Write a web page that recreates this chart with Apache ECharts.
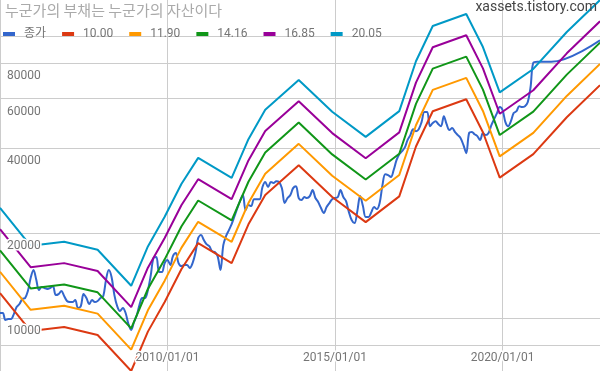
<!DOCTYPE html>
<html><head><meta charset="utf-8">
<script src="https://cdn.jsdelivr.net/npm/echarts@6/dist/echarts.min.js"></script>
<style>html,body{margin:0;padding:0;background:#fff}#c{width:600px;height:371px}</style>
</head><body><div id="c"></div>
<script>
const titleText = '누군가의 부채는 누군가의 자산이다';
const siteText = 'xassets.tistory.com';
const closeName = '종가';
const closeStartYear = 2005;
// monthly closes, 2005-01 .. 2020-12
const closeMonthly = [
  10420, 10420, 9840, 9920, 9920, 10330, 10940, 11210, 11680, 11770, 12460, 13860,
  14790, 13630, 12570, 12880, 12770, 12670, 12770, 12980, 12060, 12160, 12460, 11970,
  11490, 11390, 11390, 11580, 10850, 11030, 12160, 11770, 11210, 11580, 11390, 11490,
  11770, 11970, 13630, 14790, 13970, 12060, 11030, 10590, 10850, 10420, 9520, 9070,
  9680, 10250, 11120, 11770, 11770, 12570, 14090, 16320, 16450, 14550, 14550, 15660,
  16050, 15410, 16580, 17000, 15660, 15280, 15410, 15410, 15040, 15660, 17000, 19200,
  19680, 18890, 18280, 17990, 17270, 17130, 16580, 14790, 18130, 19520, 20500, 21530,
  22970, 24540, 25970, 27290, 24140, 25150, 24930, 26390, 26390, 26390, 29130, 30350,
  29130, 30350, 30100, 30570, 30350, 28870, 25560, 26630, 27290, 28870, 29340, 26630,
  26200, 26850, 26630, 27050, 28430, 26630, 25770, 24540, 23560, 24740, 25560, 26390,
  26630, 26850, 28430, 26850, 25970, 23740, 22250, 21700, 23930, 27050, 24930, 22790,
  22790, 23740, 24740, 24330, 25560, 29610, 32360, 32130, 31610, 33470, 36270, 38090,
  39040, 40330, 42740, 44510, 46710, 45950, 46710, 49500, 53710, 53710, 47860, 49100,
  49850, 48650, 47860, 51930, 48650, 46370, 47130, 45620, 44510, 43400, 40990, 38400,
  45250, 45620, 44840, 44120, 42740, 45250, 44510, 45250, 48300, 50680, 53270, 55950,
  54600, 49500, 47860, 49850, 53270, 54090, 56340, 55950, 56340, 58210, 65770, 80340
];
const closeTailDates = ['2021-01-15', '2021-06-15', '2022-11-28'];
const closeTailValues = [81000, 81000, 96500];

const bandDates = ['2005-01-01','2005-12-01','2006-12-01','2007-12-01','2008-12-01','2009-06-01','2009-12-01',
  '2010-06-01','2010-12-01','2011-12-01','2012-06-01','2012-12-01','2013-12-01','2014-12-01','2015-12-01',
  '2016-12-01','2017-06-01','2017-12-01','2018-12-01','2019-06-01','2019-12-01','2020-12-01','2021-12-01','2022-11-28'];
const bandBase = [1226, 899, 929, 871, 649, 895, 1140,
  1490, 1843, 1566, 2148, 2729, 3482, 2685, 2188,
  2700, 4055, 5409, 5965, 4555, 3145, 3809, 5150, 6687];
const bandMultiples = [10.00, 11.90, 14.16, 16.85, 20.05];
const bandNames = ['10.00', '11.90', '14.16', '16.85', '20.05'];

const yGridValues = [8000, 10000, 20000, 40000, 60000, 80000, 100000];
const yLabelValues = [10000, 20000, 40000, 60000, 80000];
const xGridDates = ['2005-01-01', '2010-01-01', '2015-01-01', '2020-01-01'];
const xLabelDates = ['2010-01-01', '2015-01-01', '2020-01-01'];
const colors = ['#3366cc', '#dc3912', '#ff9900', '#109618', '#990099', '#0099c6'];

function toTime(s) {
  const p = s.split('-').map(Number);
  return new Date(p[0], p[1] - 1, p[2] || 1).getTime();
}
function pad(n) { return (n < 10 ? '0' : '') + n; }

const closeData = closeMonthly.map((v, i) => [
  toTime(`${closeStartYear + Math.floor(i / 12)}-${(i % 12) + 1}-01`), v
]).concat(closeTailDates.map((d, i) => [toTime(d), closeTailValues[i]]));

const bandSeriesData = bandMultiples.map(m => bandDates.map((d, i) => [toTime(d), +(bandBase[i] * m).toFixed(1)]));

const allPts = closeData.concat(...bandSeriesData);
const xMin = Math.min(...allPts.map(p => p[0]));
const xMax = Math.max(...allPts.map(p => p[0]));
const yMin = Math.min(...allPts.map(p => p[1]));
const yMax = Math.max(...allPts.map(p => p[1]));

const font = 'Roboto, "Noto Sans CJK KR", sans-serif';
const labelText = {
  color: '#757575', fontSize: 12, fontFamily: font,
  textBorderColor: '#fff', textBorderWidth: 3
};

const series = [{
  name: closeName, type: 'line', data: closeData, showSymbol: false, smooth: 0.35,
  xAxisIndex: 0, yAxisIndex: 0,
  lineStyle: { width: 2, color: colors[0] }, itemStyle: { color: colors[0] }, z: 2
}].concat(bandSeriesData.map((d, k) => ({
  name: bandNames[k], type: 'line', data: d, showSymbol: false,
  xAxisIndex: 0, yAxisIndex: 0,
  lineStyle: { width: 2, color: colors[k + 1] }, itemStyle: { color: colors[k + 1] }, z: 2
})));

const chart = echarts.init(document.getElementById('c'), null, { renderer: 'canvas' });
chart.setOption({
  animation: false,
  color: colors,
  title: [
    { text: titleText, left: 5, top: 3, padding: 0,
      textStyle: { color: '#aaaaaa', fontSize: 15, fontWeight: 'normal', fontFamily: '"Noto Sans CJK KR", sans-serif' } },
    { text: siteText, right: 3, top: 1, padding: 0,
      textStyle: { color: '#444444', fontSize: 14, fontWeight: 'normal', fontFamily: font } }
  ],
  legend: {
    left: 3, top: 28, padding: 0, itemGap: 16, itemWidth: 12, itemHeight: 4, icon: 'rect',
    textStyle: { color: '#757575', fontSize: 12, fontFamily: font, padding: [0, 0, 0, 4] },
    data: [closeName].concat(bandNames)
  },
  grid: { left: 0, right: 0, top: 0, bottom: 0, containLabel: false },
  xAxis: [
    { type: 'value', position: 'bottom', min: xMin, max: xMax, scale: true,
      axisLine: { show: false }, axisTick: { show: false, customValues: xGridDates.map(toTime) },
      axisLabel: { show: false, customValues: xGridDates.map(toTime) },
      splitLine: { show: true, lineStyle: { color: '#cccccc', width: 1 } } },
    { type: 'value', position: 'bottom', min: xMin, max: xMax, scale: true, z: 10,
      axisLine: { show: false }, axisTick: { show: false }, splitLine: { show: false },
      axisLabel: Object.assign({ inside: true, margin: 7, customValues: xLabelDates.map(toTime),
        formatter: v => { const d = new Date(v); return d.getFullYear() + '/' + pad(d.getMonth() + 1) + '/' + pad(d.getDate()); }
      }, labelText) }
  ],
  yAxis: [
    { type: 'log', position: 'left', min: yMin, max: yMax,
      axisLine: { show: false }, axisTick: { show: false, customValues: yGridValues },
      axisLabel: { show: false, customValues: yGridValues },
      splitLine: { show: true, lineStyle: { color: '#cccccc', width: 1 } } },
    { type: 'log', position: 'left', min: yMin, max: yMax, z: 10,
      axisLine: { show: false }, axisTick: { show: false }, splitLine: { show: false },
      axisLabel: Object.assign({ inside: true, margin: 6, customValues: yLabelValues,
        verticalAlign: 'top', padding: [7, 0, 0, 1],
        formatter: v => String(Math.round(v)) }, labelText) }
  ],
  series: series
});
</script>
</body></html>
